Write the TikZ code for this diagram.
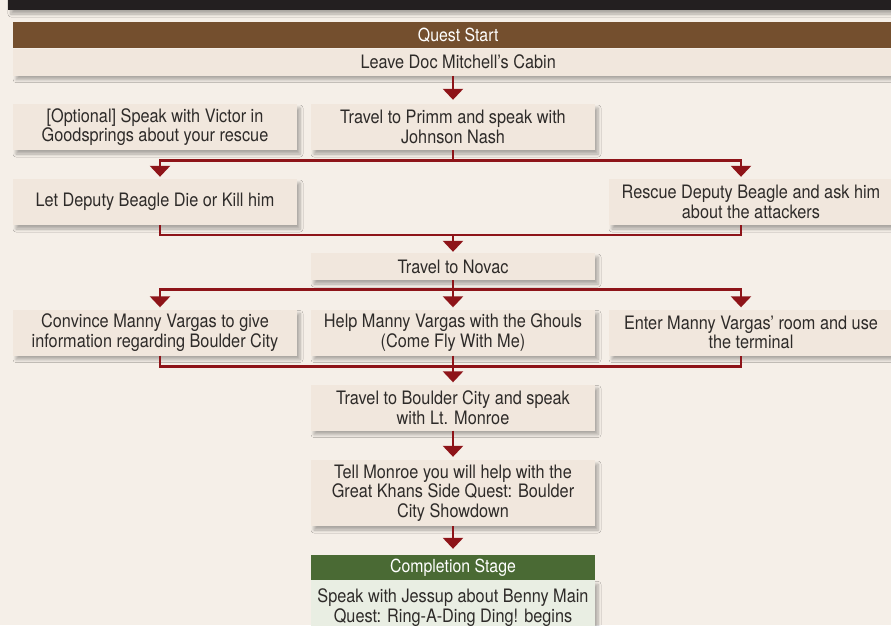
\documentclass[tikz,border=0pt]{standalone}
\usepackage{fontspec}
\setmainfont{TeX Gyre Heros}[FakeStretch=0.88]
\usetikzlibrary{positioning, arrows.meta, shadows.blur, calc}

\definecolor{bgcream}{HTML}{F5EFE8}
\definecolor{boxfill}{HTML}{F1E7DD}
\definecolor{questbrown}{HTML}{744F2E}
\definecolor{flowred}{HTML}{8E1419}
\definecolor{donegreen}{HTML}{4A6A34}
\definecolor{greenfill}{HTML}{E9EEE3}
\definecolor{inkgray}{HTML}{2E2B29}
\definecolor{topdark}{HTML}{231F20}

\tikzset{
  boxshadow/.style={blur shadow={shadow xshift=3pt, shadow yshift=-4pt, shadow blur radius=3pt, shadow blur steps=6, shadow opacity=30}},
  stepbox/.style={fill=boxfill, text=inkgray, align=center, minimum width=284pt, minimum height=46pt,
    inner sep=0pt, font=\fontsize{18.5}{19.5}\selectfont, boxshadow},
  headbar/.style={text=white, minimum height=26pt, inner sep=0pt, font=\fontsize{18}{19}\selectfont},
  wire/.style={draw=flowred, line width=2.6pt},
  flow/.style={wire, -{Triangle[width=20pt, length=11pt]}}
}

\begin{document}
\begin{tikzpicture}[x=1pt, y=-1pt]
	\useasboundingbox (0,0) rectangle (891,625);
	\fill[bgcream] (0,0) rectangle (891,625);
	% top banner (cut off)
	\fill[topdark, boxshadow] (8,-10) rectangle (900,10);
	% Quest start
	\node[headbar, fill=questbrown, minimum width=890pt, anchor=north west] (start) at (13,22) {Quest Start};
	\node[stepbox, minimum width=890pt, minimum height=27pt, anchor=north] (cabin) at (start.south) {Leave Doc Mitchell’s Cabin};
	% Row two
	\node[stepbox] (victor) at (155,127) {[Optional] Speak with Victor in\\Goodsprings about your rescue};
	\node[stepbox] (primm) at (453,127) {Travel to Primm and speak with\\Johnson Nash};
	% Row three
	\node[stepbox] (die) at (155,202) {Let Deputy Beagle Die or Kill him};
	\node[stepbox] (rescue) at (751,202) {Rescue Deputy Beagle and ask him\\about the attackers};
	\node[stepbox, minimum height=27pt] (novac) at (453,266.5) {Travel to Novac};
	% Row five
	\node[stepbox] (convince) at (155,332.5) {Convince Manny Vargas to give\\information regarding Boulder City};
	\node[stepbox] (ghouls) at (453,332.5) {Help Manny Vargas with the Ghouls\\(Come Fly With Me)};
	\node[stepbox] (terminal) at (751,332.5) {Enter Manny Vargas’ room and use\\the terminal};
	% Final steps
	\node[stepbox] (boulder) at (453,407.5) {Travel to Boulder City and speak\\with Lt. Monroe};
	\node[stepbox, minimum height=66pt] (monroe) at (453,493) {Tell Monroe you will help with the\\Great Khans Side Quest: Boulder\\City Showdown};
	\node[headbar, fill=donegreen, minimum width=284pt, minimum height=25pt] (complete) at (453,567.5) {Completion Stage};
	\node[stepbox, fill=greenfill, minimum height=50pt, anchor=north, text depth=0pt] (jessup) at (complete.south) {Speak with Jessup about Benny Main\\Quest: Ring-A-Ding Ding! begins};

	% Connectors
	\draw[flow, shorten >=4pt] (primm.north |- cabin.south) -- (primm.north);
	\coordinate (split1) at ($(primm.south)+(0,10)$);
	\draw[wire] (primm.south) -- (split1);
	\draw[flow, shorten >=2pt] (split1) -| ([xshift=5pt]die.north);
	\draw[flow, shorten >=2pt] (split1) -| ([xshift=-10pt]rescue.north);
	\coordinate (join1) at ($(novac.north)+(0,-18)$);
	\draw[wire] ([xshift=5pt]die.south) |- (join1) -| ([xshift=-10pt]rescue.south);
	\draw[flow, shorten >=1pt] (join1) -- (novac.north);
	\coordinate (split2) at ($(novac.south)+(0,9)$);
	\draw[wire] (novac.south) -- (split2);
	\draw[flow, shorten >=2pt] (split2) -| ([xshift=5pt]convince.north);
	\draw[flow, shorten >=2pt] (split2) -- (ghouls.north);
	\draw[flow, shorten >=2pt] (split2) -| ([xshift=-10pt]terminal.north);
	\coordinate (join2) at ($(boulder.north)+(0,-18)$);
	\draw[wire] ([xshift=5pt]convince.south) |- (join2) -| ([xshift=-10pt]terminal.south);
	\draw[wire] (ghouls.south) -- (join2);
	\draw[flow, shorten >=2pt] (join2) -- (boulder.north);
	\draw[flow, shorten >=3pt] (boulder.south) -- (monroe.north);
	\draw[flow, shorten >=6pt] (monroe.south) -- (complete.north);
\end{tikzpicture}
\end{document}
